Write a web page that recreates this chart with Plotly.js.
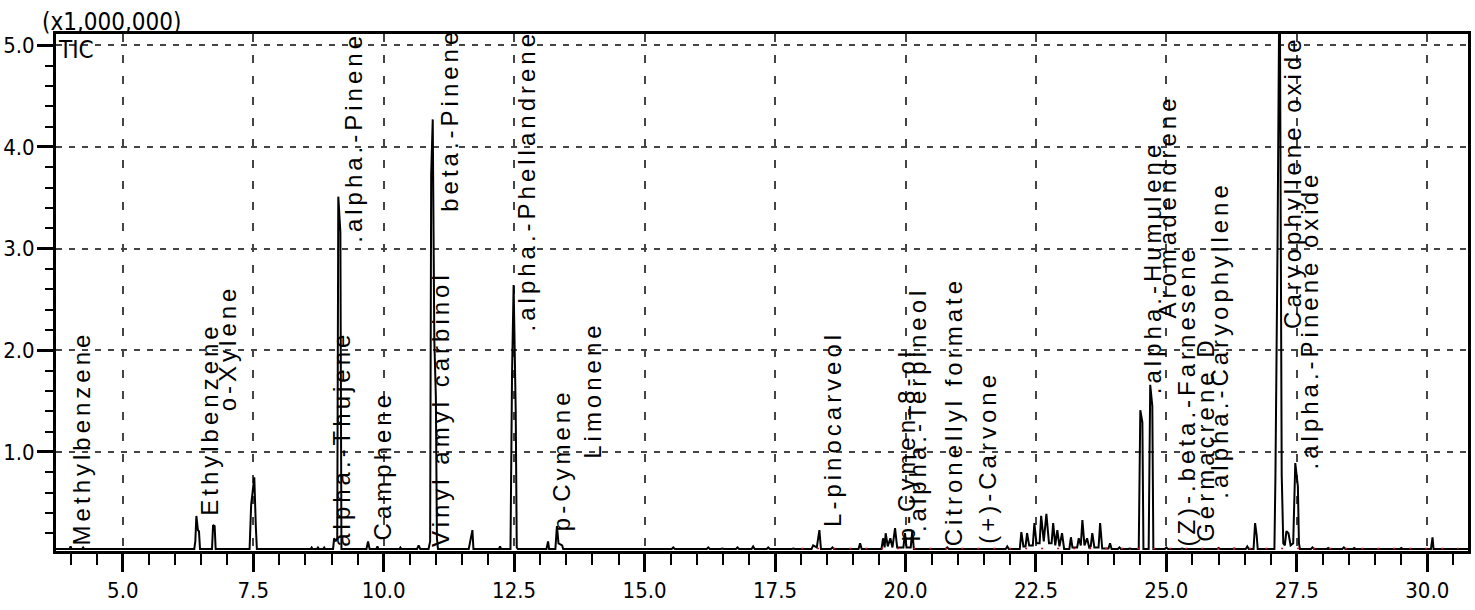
<!DOCTYPE html>
<html><head><meta charset="utf-8">
<script src="https://cdn.plot.ly/plotly-3.0.1.min.js"></script>
<style>html,body{margin:0;padding:0;background:#fff}#chart{width:1475px;height:610px}</style>
</head><body><div id="chart"></div>
<script>
// Retention time (min) and TIC intensity (x1,000,000)
const rt = [3.72,
3.98,4.00,4.02, 4.22,4.24,4.26, 4.66,4.68,4.70, 4.76,4.78,4.80,
6.37,6.39,6.41,6.44,6.46,6.48, 6.71,6.73,6.76,6.78,
7.43,7.46,7.52,7.55,7.57,
8.60,8.62,8.64, 8.72,8.74,8.76, 8.84,8.86,8.88,
9.03,9.05,9.08,9.11,9.13,9.17,9.19,
9.67,9.70,9.73, 9.86,9.88,9.90, 10.30,10.32,10.34, 10.64,10.67,10.70,
10.86,10.89,10.91,10.94,10.97,11.00,11.02,11.04,
11.63,11.66,11.70,11.72, 12.21,12.23,12.25,
12.43,12.46,12.49,12.53,12.55,12.57,
13.12,13.15,13.17, 13.29,13.32,13.35,13.42,13.44,
15.52,15.55,15.58, 16.19,16.22,16.25, 16.46,16.49,16.52, 16.75,16.78,16.81,
17.05,17.08,17.11, 17.34,17.37,17.40, 17.82,17.85,17.88,
18.20,18.23,18.30,18.35,18.38, 18.57,18.60,18.63, 19.10,19.13,19.16,
19.54,19.57,19.60,19.62,19.66,19.71,19.75,19.80,19.84,19.96,19.99,20.02,20.10,20.13,20.16,
20.77,20.80,20.83, 21.92,21.95,21.98,
22.19,22.22,22.26,22.30,22.33,22.37,22.44,22.47,22.51,22.57,22.60,22.65,22.70,22.75,22.80,22.83,22.87,22.91,22.95,23.00,23.04,
23.14,23.17,23.20,23.29,23.32,23.36,23.39,23.43,23.48,23.52,23.55,23.58,23.62,23.70,23.73,23.77,23.89,23.92,23.95,
24.07,24.10,24.13, 24.27,24.30,24.33,
24.47,24.50,24.54,24.56, 24.66,24.69,24.73,24.75,
24.97,25.00,25.03, 25.27,25.30,25.33, 25.47,25.50,25.53, 25.67,25.70,25.73,
25.97,26.00,26.03, 26.27,26.30,26.33, 26.52,26.55,26.58,
26.67,26.70,26.73,26.75,
27.07,27.09,27.13,27.17,27.21,27.24,27.27,27.30,27.34,27.38,27.43,27.47,27.52,27.54,27.56,
27.77,27.80,27.83, 28.07,28.10,28.13, 28.37,28.40,28.43, 28.57,28.60,28.63,
28.97,29.00,29.03, 29.47,29.50,29.53,
30.07,30.10,30.12,
30.78];
const tic = [0.045,
0.045,0.07,0.045, 0.045,0.06,0.045, 0.045,0.05,0.045, 0.045,0.05,0.045,
0.045,0.12,0.37,0.23,0.22,0.045, 0.045,0.28,0.27,0.045,
0.045,0.48,0.75,0.26,0.045,
0.045,0.06,0.045, 0.045,0.06,0.045, 0.045,0.06,0.045,
0.045,0.15,0.12,0.15,3.51,3.16,0.045,
0.045,0.12,0.045, 0.045,0.07,0.045, 0.045,0.06,0.045, 0.045,0.08,0.045,
0.045,0.12,3.73,4.27,2.10,1.54,0.15,0.045,
0.045,0.13,0.23,0.045, 0.045,0.07,0.045,
0.045,1.78,2.64,1.41,0.06,0.045,
0.045,0.12,0.045, 0.045,0.27,0.10,0.08,0.045,
0.045,0.06,0.045, 0.045,0.06,0.045, 0.045,0.05,0.045, 0.045,0.06,0.045,
0.045,0.07,0.045, 0.045,0.06,0.045, 0.045,0.05,0.045,
0.045,0.08,0.06,0.23,0.045, 0.045,0.06,0.045, 0.045,0.10,0.045,
0.045,0.15,0.06,0.20,0.07,0.15,0.06,0.25,0.06,0.06,0.20,0.06,0.06,0.22,0.045,
0.045,0.06,0.045, 0.045,0.07,0.045,
0.045,0.21,0.07,0.07,0.20,0.08,0.08,0.30,0.10,0.10,0.37,0.12,0.39,0.10,0.10,0.30,0.08,0.23,0.07,0.20,0.045,
0.045,0.16,0.06,0.06,0.15,0.08,0.33,0.08,0.15,0.06,0.07,0.20,0.06,0.06,0.30,0.05,0.05,0.10,0.045,
0.045,0.06,0.045, 0.045,0.05,0.045,
0.045,1.41,1.29,0.045, 0.045,1.66,1.45,0.045,
0.045,0.06,0.045, 0.045,0.05,0.045, 0.045,0.05,0.045, 0.045,0.05,0.045,
0.045,0.055,0.045, 0.045,0.05,0.045, 0.045,0.07,0.045,
0.045,0.30,0.18,0.045,
0.045,0.77,3.04,6.00,0.77,0.10,0.08,0.22,0.20,0.08,0.10,0.89,0.66,0.10,0.045,
0.045,0.06,0.045, 0.045,0.055,0.045, 0.045,0.06,0.045, 0.045,0.055,0.045,
0.045,0.05,0.045, 0.045,0.055,0.045,
0.045,0.16,0.045,
0.045];

// Integration baseline (red dotted marks)
const baseRt = [18.0, 30.6];
const baseTic = [0.05, 0.05];

// Peak identification labels
const peakNames = ["Methylbenzene","Ethylbenzene","o-Xylene","alpha.-Thujene",".alpha.-Pinene","Camphene",
  "Vinyl amyl carbinol","beta.-Pinene",".alpha.-Phellandrene","p-Cymene","Limonene","L-pinocarveol",
  "p-Cymen-8-ol",".alpha.-Terpineol","Citronellyl formate","(+)-Carvone",".alpha.-Humulene","Aromadendrene",
  "(Z)-.beta.-Farnesene","Germacrene D",".alpha.-Caryophyllene","Caryophyllene oxide",".alpha.-Pinene oxide"];
const peakLabelRt = [3.93,6.38,6.73,8.91,9.15,9.70,10.81,10.99,12.46,13.13,13.72,18.31,
  19.74,19.95,20.66,21.30,24.46,24.75,25.11,25.48,25.74,27.14,27.47];
const peakLabelBase = [0.07,0.36,1.39,0.06,3.05,0.12,0.06,3.35,2.17,0.21,0.92,0.25,
  0.11,0.20,0.06,0.09,1.56,2.30,0.06,0.11,0.53,2.20,0.82];

const xTickVals = [5.0,7.5,10.0,12.5,15.0,17.5,20.0,22.5,25.0,27.5,30.0];
const yTickVals = [1.0,2.0,3.0,4.0,5.0];

function hasFont(name){
  const c = document.createElement('canvas').getContext('2d');
  const s = 'abcdefghijklmnopqrstuvwxyz0123456789';
  c.font = '40px monospace'; const a = c.measureText(s).width;
  c.font = '40px "' + name + '", monospace'; const b = c.measureText(s).width;
  return Math.abs(a-b) > 0.5;
}
let tickFam, tickSize, ticFontSize, scaleFontSize;
if (hasFont('Liberation Sans Narrow')) { tickFam = 'Liberation Sans Narrow, sans-serif'; tickSize = 27; ticFontSize = 27; scaleFontSize = 30; }
else if (hasFont('DejaVu Sans Condensed')) { tickFam = 'DejaVu Sans Condensed, sans-serif'; tickSize = 22; ticFontSize = 24; scaleFontSize = 24; }
else { tickFam = 'Liberation Sans, Arial, sans-serif'; tickSize = 22; ticFontSize = 24; scaleFontSize = 24; }

const tickFont = {family: tickFam, size: tickSize, color:'#000'};
const labelFont = {family:'Liberation Sans, Arial, sans-serif', size:24, color:'#000'};

const annotations = peakNames.map((n,i)=>({
  x: peakLabelRt[i], y: peakLabelBase[i], xref:'x', yref:'y',
  text: '<span style="letter-spacing:4px">'+n+'</span>',
  textangle:-90, showarrow:false, xanchor:'left', yanchor:'bottom',
  font: labelFont, borderpad:0
}));
annotations.push({x:0, y:1, xref:'paper', yref:'paper', xanchor:'left', yanchor:'top',
  text:'TIC', showarrow:false, font:{family:tickFam,size:ticFontSize,color:'#000'}, xshift:0, yshift:0});
annotations.push({x:0, y:1, xref:'paper', yref:'paper', xanchor:'left', yanchor:'bottom',
  text:'(x1,000,000)', showarrow:false, font:{family:tickFam,size:scaleFontSize,color:'#000'}, xshift:-16, yshift:-4});

const trace = {x: rt, y: tic, type:'scatter', mode:'lines', line:{color:'#000', width:2}, hoverinfo:'x+y'};
const baseTrace = {x: baseRt, y: baseTic, type:'scatter', mode:'lines', line:{color:'#d01010', width:1.5, dash:'2px,14px'}, hoverinfo:'skip'};

const layout = {
  width:1475, height:610,
  margin:{l:56, r:7, t:34, b:59},
  paper_bgcolor:'#fff', plot_bgcolor:'#fff',
  showlegend:false,
  xaxis:{range:[3.72,30.78], tickvals:xTickVals, ticktext:xTickVals.map(v=>v.toFixed(1)),
    ticks:'outside', ticklen:18, tickwidth:3, tickcolor:'#000',
    showline:true, linewidth:3, linecolor:'#000', mirror:true,
    showgrid:true, gridcolor:'#444', gridwidth:2, griddash:'8px,13px',
    zeroline:false, tickfont:tickFont,
    minor:{dtick:0.5, tick0:0, ticks:'outside', ticklen:11, tickwidth:2, tickcolor:'#000', showgrid:false}},
  yaxis:{range:[0.025,5.11], tickvals:yTickVals, ticktext:yTickVals.map(v=>v.toFixed(1)),
    ticks:'outside', ticklen:16, tickwidth:3, tickcolor:'#000',
    showline:true, linewidth:3, linecolor:'#000', mirror:true,
    showgrid:true, gridcolor:'#444', gridwidth:2, griddash:'6px,7px',
    zeroline:false, tickfont:tickFont, ticklabelstandoff:-2,
    minor:{dtick:0.2, tick0:0, ticks:'outside', ticklen:8, tickwidth:2, tickcolor:'#000', showgrid:false}},
  annotations: annotations
};

Plotly.newPlot('chart', [trace, baseTrace], layout, {staticPlot:true});
</script>
</body></html>
